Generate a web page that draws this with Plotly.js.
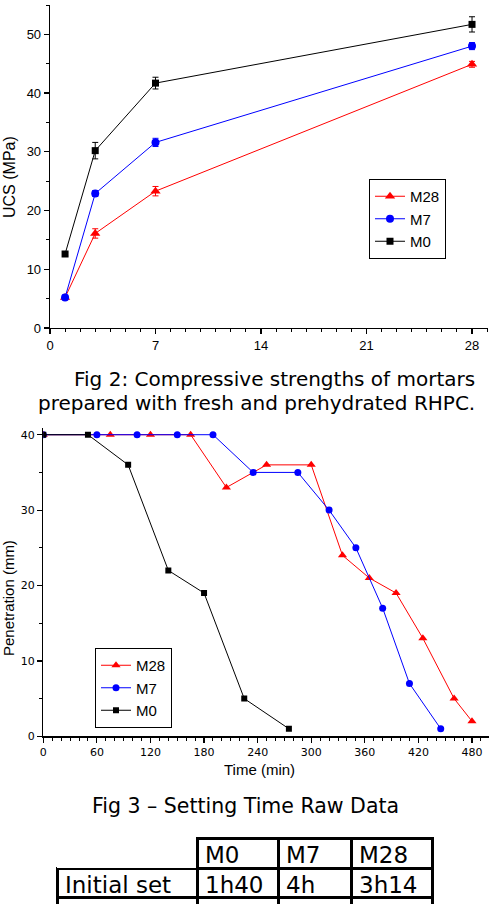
<!DOCTYPE html>
<html>
<head>
<meta charset="utf-8">
<script src="https://cdn.plot.ly/plotly-3.0.1.min.js"></script>
<style>
  html, body { margin: 0; padding: 0; background: #ffffff; overflow: hidden; }
  #fig { width: 490px; height: 940px; }
</style>
</head>
<body>
<div id="fig"></div>
<script>
// Compressive strength (UCS) versus curing age
const ucsDays = [1, 3, 7, 28];
const ucsM28 = [5.2, 16.1, 23.3, 44.9];
const ucsM28Err = [0.3, 0.8, 0.8, 0.5];
const ucsM7 = [5.2, 22.9, 31.6, 48.0];
const ucsM7Err = [0.4, 0.5, 0.7, 0.6];
const ucsM0 = [12.6, 30.2, 41.7, 51.7];
const ucsM0Err = [0.3, 1.4, 1.0, 1.3];

// Needle penetration versus time (setting test)
const timeM28 = [0, 75, 120, 165, 205, 250, 300, 335, 365, 395, 425, 460, 480];
const penM28 = [40, 40, 40, 40, 33, 36, 36, 24, 21, 19, 13, 5, 2];
const timeM7 = [0, 60, 105, 150, 190, 235, 285, 320, 350, 380, 410, 445];
const penM7 = [40, 40, 40, 40, 40, 35, 35, 30, 25, 17, 7, 1];
const timeM0 = [0, 50, 95, 140, 180, 225, 275];
const penM0 = [40, 40, 36, 22, 19, 5, 1];

// Setting time summary table
const tableHeader = ['', 'M0', 'M7', 'M28'];
const tableRowLabels = ['Initial set', 'Final set'];
const setM0 = ['1h40', '4h35'];
const setM7 = ['4h', '7h25'];
const setM28 = ['3h14', '8h00'];

const W = 490, H = 940;
const px = v => v / W;
const py = v => 1 - v / H;

const RED = '#ff0000', BLUE = '#0000ff', BLACK = '#000000';
const ARIAL = '"Liberation Sans", Arial, sans-serif';
const VERDANA = '"DejaVu Sans", Verdana, sans-serif';

function strengthTrace(name, y, err, color, symbol, size) {
  return {
    type: 'scatter', mode: 'lines+markers', name: name,
    x: ucsDays, y: y,
    xaxis: 'x', yaxis: 'y', legend: 'legend',
    line: { color: color, width: 1 },
    marker: { color: color, symbol: symbol, size: size },
    error_y: { type: 'data', array: err, visible: true, color: color, thickness: 1, width: 3 }
  };
}

function settingTrace(name, x, y, color, symbol, size) {
  return {
    type: 'scatter', mode: 'lines+markers', name: name,
    x: x, y: y,
    xaxis: 'x2', yaxis: 'y2', legend: 'legend2',
    line: { color: color, width: 1 },
    marker: { color: color, symbol: symbol, size: size }
  };
}

const traces = [
  strengthTrace('M28', ucsM28, ucsM28Err, RED, 'triangle-up', 9),
  strengthTrace('M7', ucsM7, ucsM7Err, BLUE, 'circle', 8),
  strengthTrace('M0', ucsM0, ucsM0Err, BLACK, 'square', 7),
  settingTrace('M28', timeM28, penM28, RED, 'triangle-up', 8),
  settingTrace('M7', timeM7, penM7, BLUE, 'circle', 7),
  settingTrace('M0', timeM0, penM0, BLACK, 'square', 6),
  {
    type: 'table',
    domain: { x: [px(57), px(432)], y: [0, py(838)] },
    columnwidth: [140, 81, 73, 81],
    header: {
      values: tableHeader,
      height: 30,
      align: 'left',
      fill: { color: '#ffffff' },
      line: { color: ['rgba(0,0,0,0)', BLACK, BLACK, BLACK], width: 3 },
      font: { family: VERDANA, size: 23, color: BLACK }
    },
    cells: {
      values: [tableRowLabels, setM0, setM7, setM28],
      height: 29,
      align: 'left',
      fill: { color: '#ffffff' },
      line: { color: BLACK, width: 3 },
      font: { family: VERDANA, size: 23, color: BLACK }
    }
  }
];

const axisBase = {
  showline: true, linecolor: BLACK, linewidth: 1.3,
  showgrid: false, zeroline: false, mirror: false,
  ticks: 'outside', ticklen: 5, tickwidth: 1.2, tickcolor: BLACK,
  fixedrange: true
};

const legendBase = {
  bgcolor: '#ffffff', bordercolor: BLACK, borderwidth: 1,
  xanchor: 'left', yanchor: 'top', traceorder: 'normal',
  font: { family: ARIAL, size: 15, color: BLACK }
};

const layout = {
  width: W, height: H,
  margin: { l: 0, r: 0, t: 0, b: 0 },
  paper_bgcolor: '#ffffff', plot_bgcolor: '#ffffff',
  showlegend: true,
  xaxis: Object.assign({}, axisBase, {
    domain: [px(50), px(488)], range: [0, 29.06], anchor: 'y',
    tick0: 0, dtick: 7,
    minor: { dtick: 1, ticks: 'outside', ticklen: 3, tickwidth: 1, tickcolor: BLACK },
    tickfont: { family: ARIAL, size: 13, color: BLACK }
  }),
  yaxis: Object.assign({}, axisBase, {
    domain: [py(328), py(5)], range: [0, 55], anchor: 'x',
    tick0: 0, dtick: 10,
    minor: { dtick: 5, ticks: 'outside', ticklen: 3, tickwidth: 1, tickcolor: BLACK },
    tickfont: { family: ARIAL, size: 13, color: BLACK }
  }),
  xaxis2: Object.assign({}, axisBase, {
    domain: [px(43.3), px(488.5)], range: [0, 498.5], anchor: 'y2',
    tick0: 0, dtick: 60,
    minor: { dtick: 10, ticks: 'outside', ticklen: 3, tickwidth: 1, tickcolor: BLACK },
    tickfont: { family: VERDANA, size: 11, color: BLACK }
  }),
  yaxis2: Object.assign({}, axisBase, {
    domain: [py(736.3), py(427.7)], range: [0, 40.93], anchor: 'x2',
    tick0: 0, dtick: 10,
    minor: { dtick: 5, ticks: 'outside', ticklen: 3, tickwidth: 1, tickcolor: BLACK },
    tickfont: { family: VERDANA, size: 11, color: BLACK }
  }),
  legend: Object.assign({}, legendBase, { x: px(369), y: py(179) }),
  legend2: Object.assign({}, legendBase, { x: px(95), y: py(648) }),
  annotations: [
    {
      text: 'UCS (MPa)', textangle: -90, showarrow: false,
      xref: 'paper', yref: 'paper', x: px(10), y: py(177),
      xanchor: 'center', yanchor: 'middle',
      font: { family: ARIAL, size: 16, color: BLACK }
    },
    {
      text: 'Fig 2: Compressive strengths of mortars',
      showarrow: false,
      xref: 'paper', yref: 'paper', x: px(477), y: py(379),
      xanchor: 'right', yanchor: 'middle',
      font: { family: VERDANA, size: 20, color: BLACK }
    },
    {
      text: 'prepared with fresh and prehydrated RHPC.',
      showarrow: false,
      xref: 'paper', yref: 'paper', x: px(477), y: py(403),
      xanchor: 'right', yanchor: 'middle',
      font: { family: VERDANA, size: 20, color: BLACK }
    },
    {
      text: 'Penetration (mm)', textangle: -90, showarrow: false,
      xref: 'paper', yref: 'paper', x: px(8), y: py(598),
      xanchor: 'center', yanchor: 'middle',
      font: { family: ARIAL, size: 15, color: BLACK }
    },
    {
      text: 'Time (min)', showarrow: false,
      xref: 'paper', yref: 'paper', x: px(259.5), y: py(769),
      xanchor: 'center', yanchor: 'middle',
      font: { family: ARIAL, size: 15, color: BLACK }
    },
    {
      text: 'Fig 3 \u2013 Setting Time Raw Data', showarrow: false,
      xref: 'paper', yref: 'paper', x: px(245), y: py(806),
      xanchor: 'center', yanchor: 'middle',
      font: { family: VERDANA, size: 20.5, color: BLACK }
    }
  ]
};

Plotly.newPlot('fig', traces, layout, { staticPlot: true, displayModeBar: false });
</script>
</body>
</html>
